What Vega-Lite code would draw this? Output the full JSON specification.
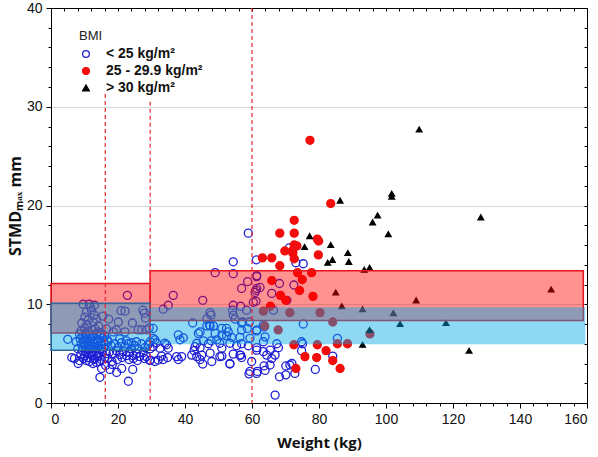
{
 "$schema": "https://vega.github.io/schema/vega-lite/v6.json",
 "width": 536, "height": 395,
 "autosize": {"type": "none"},
 "padding": {"left": 51, "top": 8, "right": 11, "bottom": 54},
 "background": "white",
 "config": {"view": {"stroke": "#000", "strokeWidth": 1}, "font": "Liberation Sans"},
 "datasets": {
  "bands": [
   {"band": "red", "seg": "left", "x0": 0, "x1": 29.6, "y0": 7.1, "y1": 12.1},
   {"band": "red", "seg": "right", "x0": 29.6, "x1": 158.9, "y0": 8.35, "y1": 13.4},
   {"band": "blue", "seg": "left", "x0": 0, "x1": 29.6, "y0": 5.35, "y1": 10.1},
   {"band": "blue", "seg": "right", "x0": 29.6, "x1": 159.5, "y0": 5.95, "y1": 9.7}
  ],
  "vlines": [
   {"x": 16.2, "top": 31.3},
   {"x": 29.6, "top": 30.5},
   {"x": 60, "top": 40}
  ],
  "pts": [
   {"w":9.6,"s":10.0,"g":"a"},{"w":11.4,"s":10.0,"g":"a"},{"w":12.1,"s":9.4,"g":"a"},{"w":10.6,"s":9.25,"g":"a"},{"w":12.9,"s":8.9,"g":"a"},{"w":10.1,"s":8.7,"g":"a"},{"w":11.1,"s":8.4,"g":"a"},{"w":12.6,"s":8.2,"g":"a"},{"w":9.2,"s":8.1,"g":"a"},{"w":10.8,"s":7.9,"g":"a"},{"w":13.5,"s":8.5,"g":"a"},{"w":14.2,"s":7.8,"g":"a"},{"w":15.5,"s":8.8,"g":"a"},{"w":17.2,"s":8.5,"g":"a"},{"w":20.9,"s":9.35,"g":"a"},{"w":22.1,"s":9.3,"g":"a"},{"w":24.3,"s":8.1,"g":"a"},{"w":27.4,"s":9.4,"g":"a"},{"w":27.9,"s":9.1,"g":"a"},{"w":28.2,"s":8.6,"g":"a"},{"w":20.1,"s":8.2,"g":"a"},{"w":22.8,"s":10.9,"g":"a"},{"w":26.0,"s":7.4,"g":"a"},{"w":18.6,"s":7.2,"g":"a"},{"w":22.1,"s":7.2,"g":"a"},{"w":27.1,"s":7.4,"g":"a"},{"w":28.6,"s":7.4,"g":"a"},{"w":16.6,"s":7.5,"g":"a"},{"w":19.5,"s":7.4,"g":"a"},{"w":15.0,"s":7.1,"g":"a"},{"w":11.8,"s":9.7,"g":"a"},{"w":13.0,"s":9.9,"g":"a"},{"w":10.0,"s":7.6,"g":"a"},{"w":9.0,"s":7.3,"g":"a"},{"w":8.5,"s":7.0,"g":"a"},
   {"w":9.5,"s":6.8,"g":"a"},{"w":10.5,"s":6.9,"g":"a"},{"w":11.5,"s":7.0,"g":"a"},{"w":12.5,"s":6.8,"g":"a"},{"w":13.5,"s":7.0,"g":"a"},{"w":14.5,"s":6.9,"g":"a"},{"w":15.5,"s":6.6,"g":"a"},{"w":9.8,"s":6.2,"g":"a"},{"w":10.8,"s":6.4,"g":"a"},{"w":11.8,"s":6.3,"g":"a"},{"w":12.8,"s":6.2,"g":"a"},{"w":13.8,"s":6.4,"g":"a"},{"w":14.8,"s":6.1,"g":"a"},{"w":15.8,"s":6.2,"g":"a"},{"w":10.2,"s":5.8,"g":"a"},{"w":11.2,"s":5.7,"g":"a"},{"w":12.2,"s":5.9,"g":"a"},{"w":13.2,"s":5.6,"g":"a"},{"w":14.2,"s":5.8,"g":"a"},{"w":15.2,"s":5.5,"g":"a"},{"w":16.2,"s":5.9,"g":"a"},{"w":9.3,"s":5.3,"g":"a"},{"w":10.3,"s":5.2,"g":"a"},{"w":11.3,"s":5.4,"g":"a"},{"w":12.3,"s":5.1,"g":"a"},{"w":13.3,"s":5.3,"g":"a"},{"w":14.3,"s":5.0,"g":"a"},{"w":15.3,"s":5.2,"g":"a"},{"w":16.5,"s":5.0,"g":"a"},{"w":10.0,"s":4.8,"g":"a"},{"w":11.0,"s":4.6,"g":"a"},{"w":12.0,"s":4.9,"g":"a"},{"w":13.0,"s":4.5,"g":"a"},{"w":14.0,"s":4.7,"g":"a"},{"w":15.0,"s":4.4,"g":"a"},{"w":16.0,"s":4.6,"g":"a"},{"w":8.0,"s":5.5,"g":"a"},{"w":7.5,"s":6.2,"g":"a"},{"w":8.5,"s":4.3,"g":"a"},{"w":8.9,"s":4.9,"g":"a"},{"w":7.0,"s":4.5,"g":"a"},{"w":6.2,"s":4.6,"g":"a"},{"w":5.0,"s":6.45,"g":"a"},{"w":8.1,"s":4.0,"g":"a"},{"w":11.5,"s":4.2,"g":"a"},{"w":12.5,"s":4.0,"g":"a"},{"w":13.6,"s":4.1,"g":"a"},{"w":10.5,"s":4.3,"g":"a"},
   {"w":9.0,"s":6.0,"g":"a"},{"w":10.0,"s":6.5,"g":"a"},{"w":11.0,"s":6.0,"g":"a"},{"w":12.0,"s":6.5,"g":"a"},{"w":13.0,"s":6.0,"g":"a"},{"w":14.0,"s":6.3,"g":"a"},{"w":15.0,"s":5.9,"g":"a"},{"w":9.5,"s":5.6,"g":"a"},{"w":10.7,"s":5.0,"g":"a"},{"w":11.7,"s":5.5,"g":"a"},{"w":12.7,"s":5.6,"g":"a"},{"w":13.7,"s":5.0,"g":"a"},{"w":14.7,"s":5.4,"g":"a"},{"w":11.0,"s":7.3,"g":"a"},{"w":12.3,"s":7.4,"g":"a"},{"w":13.2,"s":7.5,"g":"a"},{"w":14.0,"s":7.2,"g":"a"},{"w":16.0,"s":6.8,"g":"a"},{"w":16.8,"s":6.4,"g":"a"},{"w":10.3,"s":7.1,"g":"a"},{"w":8.7,"s":6.5,"g":"a"},{"w":9.7,"s":4.5,"g":"a"},{"w":12.8,"s":4.4,"g":"a"},{"w":14.5,"s":4.2,"g":"a"},
   {"w":17.0,"s":6.2,"g":"a"},{"w":18.0,"s":5.8,"g":"a"},{"w":19.0,"s":6.0,"g":"a"},{"w":20.0,"s":5.6,"g":"a"},{"w":21.0,"s":6.1,"g":"a"},{"w":22.0,"s":5.7,"g":"a"},{"w":23.0,"s":6.0,"g":"a"},{"w":24.0,"s":5.5,"g":"a"},{"w":25.0,"s":5.8,"g":"a"},{"w":26.0,"s":5.5,"g":"a"},{"w":27.0,"s":6.0,"g":"a"},{"w":28.0,"s":5.6,"g":"a"},{"w":29.0,"s":5.9,"g":"a"},{"w":17.5,"s":5.2,"g":"a"},{"w":18.5,"s":5.0,"g":"a"},{"w":19.5,"s":5.3,"g":"a"},{"w":20.5,"s":4.9,"g":"a"},{"w":21.5,"s":5.2,"g":"a"},{"w":22.5,"s":4.8,"g":"a"},{"w":23.5,"s":5.1,"g":"a"},{"w":24.5,"s":4.8,"g":"a"},{"w":25.5,"s":5.0,"g":"a"},{"w":26.5,"s":4.7,"g":"a"},{"w":27.5,"s":5.1,"g":"a"},{"w":28.5,"s":4.7,"g":"a"},{"w":17.0,"s":4.5,"g":"a"},{"w":18.2,"s":4.2,"g":"a"},{"w":19.8,"s":4.4,"g":"a"},{"w":21.2,"s":4.6,"g":"a"},{"w":23.3,"s":4.4,"g":"a"},{"w":25.8,"s":4.3,"g":"a"},{"w":27.9,"s":4.5,"g":"a"},{"w":24.6,"s":4.5,"g":"a"},{"w":29.5,"s":4.3,"g":"a"},{"w":29.3,"s":7.6,"g":"a"},{"w":29.6,"s":5.5,"g":"a"},{"w":22.5,"s":6.3,"g":"a"},{"w":25.5,"s":6.2,"g":"a"},{"w":24.0,"s":6.1,"g":"a"},{"w":20.5,"s":6.5,"g":"a"},
   {"w":14.6,"s":2.6,"g":"a"},{"w":23.1,"s":2.2,"g":"a"},{"w":19.6,"s":3.1,"g":"a"},{"w":17.6,"s":3.4,"g":"a"},{"w":15.1,"s":3.5,"g":"a"},{"w":21.1,"s":3.5,"g":"a"},{"w":18.3,"s":3.9,"g":"a"},{"w":24.4,"s":3.4,"g":"a"},{"w":16.3,"s":3.8,"g":"a"},
   {"w":58.9,"s":17.2,"g":"a"},{"w":54.4,"s":14.3,"g":"a"},{"w":61.3,"s":14.5,"g":"a"},{"w":49.0,"s":13.2,"g":"a"},{"w":54.4,"s":13.1,"g":"a"},{"w":58.7,"s":12.3,"g":"a"},{"w":56.9,"s":11.6,"g":"a"},{"w":61.2,"s":11.4,"g":"a"},{"w":36.5,"s":10.9,"g":"a"},{"w":35.0,"s":9.9,"g":"a"},{"w":33.5,"s":9.5,"g":"a"},{"w":45.3,"s":10.4,"g":"a"},{"w":54.4,"s":9.9,"g":"a"},{"w":54.2,"s":9.4,"g":"a"},{"w":54.4,"s":8.9,"g":"a"},{"w":54.9,"s":8.5,"g":"a"},{"w":47.5,"s":9.15,"g":"a"},{"w":47.8,"s":8.9,"g":"a"},{"w":58.4,"s":9.4,"g":"a"},{"w":61.2,"s":10.3,"g":"a"},{"w":60.4,"s":10.2,"g":"a"},{"w":59.2,"s":8.2,"g":"a"},{"w":46.5,"s":8.5,"g":"a"},{"w":42.3,"s":8.1,"g":"a"},{"w":46.5,"s":7.8,"g":"a"},{"w":47.5,"s":7.8,"g":"a"},{"w":48.5,"s":7.8,"g":"a"},{"w":51.0,"s":7.55,"g":"a"},{"w":52.4,"s":7.55,"g":"a"},{"w":52.9,"s":7.2,"g":"a"},{"w":44.0,"s":7.05,"g":"a"},{"w":56.9,"s":8.1,"g":"a"},{"w":56.9,"s":7.4,"g":"a"},{"w":58.6,"s":7.55,"g":"a"},{"w":61.4,"s":7.4,"g":"a"},{"w":30.5,"s":7.55,"g":"a"},{"w":30.5,"s":6.55,"g":"a"},{"w":31.0,"s":6.4,"g":"a"},{"w":38.0,"s":6.9,"g":"a"},{"w":39.5,"s":6.6,"g":"a"},{"w":49.0,"s":7.05,"g":"a"},{"w":51.0,"s":6.9,"g":"a"},{"w":52.4,"s":6.8,"g":"a"},{"w":53.9,"s":6.65,"g":"a"},{"w":56.4,"s":6.65,"g":"a"},{"w":59.4,"s":6.55,"g":"a"},{"w":45.5,"s":6.3,"g":"a"},{"w":47.8,"s":6.3,"g":"a"},{"w":47.0,"s":6.0,"g":"a"},{"w":43.5,"s":6.05,"g":"a"},{"w":50.4,"s":6.05,"g":"a"},{"w":53.4,"s":6.05,"g":"a"},{"w":55.4,"s":5.8,"g":"a"},{"w":56.9,"s":6.0,"g":"a"},{"w":58.9,"s":5.8,"g":"a"},{"w":61.4,"s":5.6,"g":"a"},{"w":29.6,"s":6.2,"g":"a"},{"w":31.5,"s":6.1,"g":"a"},{"w":34.0,"s":6.05,"g":"a"},{"w":35.0,"s":5.55,"g":"a"},{"w":34.5,"s":5.9,"g":"a"},{"w":32.5,"s":5.55,"g":"a"},{"w":30.5,"s":5.7,"g":"a"},{"w":43.0,"s":5.7,"g":"a"},{"w":44.5,"s":5.6,"g":"a"},{"w":42.0,"s":4.85,"g":"a"},{"w":43.5,"s":4.7,"g":"a"},{"w":45.0,"s":4.85,"g":"a"},{"w":44.5,"s":4.4,"g":"a"},{"w":37.5,"s":4.7,"g":"a"},{"w":38.0,"s":4.4,"g":"a"},{"w":47.5,"s":5.05,"g":"a"},{"w":48.0,"s":4.2,"g":"a"},{"w":51.0,"s":4.75,"g":"a"},{"w":45.3,"s":3.95,"g":"a"},{"w":53.4,"s":3.95,"g":"a"},{"w":54.4,"s":4.95,"g":"a"},{"w":56.6,"s":4.85,"g":"a"},{"w":56.9,"s":4.6,"g":"a"},{"w":29.6,"s":4.35,"g":"a"},{"w":31.0,"s":4.2,"g":"a"},{"w":32.0,"s":4.35,"g":"a"},{"w":33.0,"s":4.75,"g":"a"},{"w":59.4,"s":3.2,"g":"a"},{"w":59.1,"s":2.95,"g":"a"},{"w":59.9,"s":4.2,"g":"a"},{"w":61.6,"s":3.2,"g":"a"},{"w":44.5,"s":7.2,"g":"a"},{"w":47.3,"s":7.9,"g":"a"},{"w":49.5,"s":6.4,"g":"a"},{"w":51.0,"s":5.55,"g":"a"},{"w":56.6,"s":9.8,"g":"a"},{"w":57.2,"s":8.2,"g":"a"},{"w":39.0,"s":4.7,"g":"a"},{"w":42.7,"s":5.3,"g":"a"},{"w":50.4,"s":4.7,"g":"a"},{"w":53.4,"s":4.0,"g":"a"},{"w":56.4,"s":4.85,"g":"a"},{"w":38.5,"s":6.4,"g":"a"},{"w":33.5,"s":4.4,"g":"a"},{"w":34.8,"s":4.6,"g":"a"},
   {"w":71.1,"s":15.7,"g":"a"},{"w":73.1,"s":14.2,"g":"a"},{"w":75.3,"s":14.1,"g":"a"},{"w":61.4,"s":12.9,"g":"a"},{"w":68.2,"s":12.1,"g":"a"},{"w":72.5,"s":11.95,"g":"a"},{"w":61.4,"s":11.6,"g":"a"},{"w":60.9,"s":11.2,"g":"a"},{"w":65.9,"s":11.1,"g":"a"},{"w":70.4,"s":10.4,"g":"a"},{"w":66.4,"s":9.4,"g":"a"},{"w":63.4,"s":7.9,"g":"a"},{"w":63.6,"s":7.7,"g":"a"},{"w":61.4,"s":7.3,"g":"a"},{"w":74.8,"s":6.2,"g":"a"},{"w":75.1,"s":6.0,"g":"a"},{"w":85.5,"s":6.55,"g":"a"},{"w":61.4,"s":5.35,"g":"a"},{"w":63.4,"s":5.2,"g":"a"},{"w":65.4,"s":5.35,"g":"a"},{"w":67.9,"s":5.6,"g":"a"},{"w":66.9,"s":4.85,"g":"a"},{"w":64.4,"s":4.85,"g":"a"},{"w":65.9,"s":4.5,"g":"a"},{"w":74.8,"s":5.3,"g":"a"},{"w":71.9,"s":4.0,"g":"a"},{"w":70.1,"s":3.75,"g":"a"},{"w":63.6,"s":3.75,"g":"a"},{"w":63.9,"s":3.3,"g":"a"},{"w":65.4,"s":3.85,"g":"a"},{"w":61.4,"s":3.0,"g":"a"},{"w":68.2,"s":2.65,"g":"a"},{"w":70.1,"s":2.85,"g":"a"},{"w":78.9,"s":3.4,"g":"a"},{"w":84.1,"s":4.75,"g":"a"},{"w":66.9,"s":0.8,"g":"a"},{"w":75.3,"s":8.0,"g":"a"},{"w":63.9,"s":6.7,"g":"a"},{"w":63.4,"s":6.2,"g":"a"},{"w":67.4,"s":6.0,"g":"a"},{"w":72.8,"s":3.0,"g":"a"},{"w":71.3,"s":3.85,"g":"a"},{"w":62.4,"s":11.7,"g":"a"},{"w":61.4,"s":12.8,"g":"a"},
   {"w":77.3,"s":26.6,"g":"b"},{"w":83.5,"s":20.2,"g":"b"},{"w":72.6,"s":18.5,"g":"b"},{"w":68.3,"s":17.2,"g":"b"},{"w":72.6,"s":17.2,"g":"b"},{"w":79.5,"s":16.6,"g":"b"},{"w":79.9,"s":16.4,"g":"b"},{"w":72.6,"s":16.0,"g":"b"},{"w":73.4,"s":15.9,"g":"b"},{"w":69.8,"s":15.4,"g":"b"},{"w":72.0,"s":15.4,"g":"b"},{"w":72.2,"s":15.2,"g":"b"},{"w":63.1,"s":14.7,"g":"b"},{"w":65.9,"s":14.7,"g":"b"},{"w":79.8,"s":15.0,"g":"b"},{"w":72.6,"s":14.6,"g":"b"},{"w":68.3,"s":13.9,"g":"b"},{"w":73.6,"s":13.2,"g":"b"},{"w":77.8,"s":13.2,"g":"b"},{"w":75.0,"s":12.5,"g":"b"},{"w":65.9,"s":12.4,"g":"b"},{"w":74.2,"s":11.4,"g":"b"},{"w":68.5,"s":10.9,"g":"b"},{"w":78.2,"s":10.8,"g":"b"},{"w":70.1,"s":10.4,"g":"b"},{"w":65.5,"s":9.8,"g":"b"},{"w":63.4,"s":9.3,"g":"b"},{"w":71.3,"s":9.15,"g":"b"},{"w":80.3,"s":9.15,"g":"b"},{"w":84.1,"s":8.2,"g":"b"},{"w":67.8,"s":7.4,"g":"b"},{"w":63.8,"s":7.8,"g":"b"},{"w":72.5,"s":5.9,"g":"b"},{"w":79.5,"s":5.9,"g":"b"},{"w":85.5,"s":6.0,"g":"b"},{"w":88.5,"s":6.0,"g":"b"},{"w":95.2,"s":7.0,"g":"b"},{"w":75.8,"s":4.7,"g":"b"},{"w":79.3,"s":4.6,"g":"b"},{"w":82.1,"s":5.3,"g":"b"},{"w":84.1,"s":4.3,"g":"b"},{"w":86.3,"s":3.5,"g":"b"},{"w":73.1,"s":3.5,"g":"b"},
   {"w":77.2,"s":16.9,"g":"c"},{"w":75.7,"s":15.8,"g":"c"},{"w":83.5,"s":16.0,"g":"c"},{"w":82.6,"s":14.2,"g":"c"},{"w":84.0,"s":14.5,"g":"c"},{"w":88.6,"s":15.2,"g":"c"},{"w":88.9,"s":14.3,"g":"c"},{"w":86.3,"s":20.5,"g":"c"},{"w":85.0,"s":11.2,"g":"c"},{"w":86.8,"s":9.8,"g":"c"},{"w":93.0,"s":9.5,"g":"c"},{"w":93.5,"s":13.5,"g":"c"},{"w":95.1,"s":13.7,"g":"c"},{"w":96.0,"s":18.3,"g":"c"},{"w":97.5,"s":19.0,"g":"c"},{"w":100.7,"s":17.1,"g":"c"},{"w":101.7,"s":21.2,"g":"c"},{"w":101.7,"s":20.9,"g":"c"},{"w":102.2,"s":9.1,"g":"c"},{"w":104.2,"s":8.0,"g":"c"},{"w":109.0,"s":10.4,"g":"c"},{"w":109.9,"s":27.7,"g":"c"},{"w":117.9,"s":8.1,"g":"c"},{"w":124.8,"s":5.3,"g":"c"},{"w":128.3,"s":18.8,"g":"c"},{"w":149.3,"s":11.5,"g":"c"},{"w":95.1,"s":7.4,"g":"c"},{"w":93.0,"s":5.9,"g":"c"}
  ]
 },
 "resolve": {"axis": {"x": "independent", "y": "independent"}},
 "layer": [
  {
   "data": {"name": "pts"},
   "mark": {"type": "point", "strokeWidth": 1.3, "opacity": 1},
   "encoding": {
    "x": {"field": "w", "type": "quantitative",
     "scale": {"domain": [0, 160], "nice": false, "zero": false},
     "axis": {"title": "Weight (kg)",
      "values": [0,4,8,12,16,20,24,28,32,36,40,44,48,52,56,60,64,68,72,76,80,84,88,92,96,100,104,108,112,116,120,124,128,132,136,140,144,148,152,156,160],
      "labelExpr": "datum.value % 20 === 0 ? datum.label : ''",
      "labelOverlap": false,
      "tickSize": {"condition": {"test": "datum.value % 20 === 0", "value": 5}, "value": 3},
      "grid": false, "domainColor": "#000", "tickColor": "#000",
      "labelFont": "Liberation Sans", "labelFontSize": 14, "labelColor": "#111", "labelPadding": 4,
      "titleFont": "Open Sans", "titleFontSize": 15, "titleFontWeight": "bold", "titleColor": "#111", "titlePadding": 9}},
    "y": {"field": "s", "type": "quantitative",
     "scale": {"domain": [0, 40], "nice": false},
     "axis": {"title": "STMDₘₐₓ mm",
      "values": [0,2,4,6,8,10,12,14,16,18,20,22,24,26,28,30,32,34,36,38,40],
      "labelExpr": "datum.value % 10 === 0 ? datum.label : ''",
      "labelOverlap": false,
      "tickSize": {"condition": {"test": "datum.value % 10 === 0", "value": 5}, "value": 3},
      "grid": true, "gridColor": "#d6d6d6",
      "gridOpacity": {"condition": {"test": "datum.value % 10 === 0 && datum.value > 0 && datum.value < 40", "value": 1}, "value": 0},
      "domainColor": "#000", "tickColor": "#000",
      "labelFont": "Liberation Sans", "labelFontSize": 14, "labelColor": "#111", "labelPadding": 4,
      "titleFont": "Open Sans", "titleFontSize": 16, "titleFontWeight": "bold", "titleColor": "#111", "titlePadding": 3}},
    "shape": {"field": "g", "type": "nominal",
     "scale": {"domain": ["a", "b", "c"], "range": ["circle", "circle", "triangle-up"]},
     "legend": {"title": "BMI", "orient": "none", "legendX": 28, "legendY": 22,
      "labelExpr": "datum.value == 'a' ? '< 25 kg/m²' : datum.value == 'b' ? '25 - 29.9 kg/m²' : '> 30 kg/m²'",
      "titleFont": "Liberation Sans", "titleFontWeight": "normal", "titleFontSize": 13, "titleColor": "#222",
      "labelFont": "Liberation Sans", "labelFontWeight": "bold", "labelFontSize": 14, "labelColor": "#111",
      "symbolSize": 45, "symbolStrokeWidth": 1.3, "rowPadding": 3, "labelOffset": 13, "titlePadding": 4}},
    "stroke": {"field": "g", "type": "nominal",
     "scale": {"domain": ["a", "b", "c"], "range": ["#1f1fd6", "#f20d0d", "#000000"]},
     "legend": {"title": "BMI"}},
    "fill": {"field": "g", "type": "nominal",
     "scale": {"domain": ["a", "b", "c"], "range": ["#ffffff00", "#f20d0d", "#000000"]},
     "legend": {"title": "BMI"}},
    "size": {"condition": {"test": "datum.g == 'c'", "value": 32}, "value": 64}
   }
  },
  {
   "data": {"name": "bands"},
   "transform": [{"filter": "datum.band == 'red'"}],
   "mark": {"type": "rect", "fill": "#ff0000", "fillOpacity": 0.43, "stroke": "#e8141b", "strokeWidth": 1.5},
   "encoding": {
    "x": {"field": "x0", "type": "quantitative", "axis": null}, "x2": {"field": "x1"},
    "y": {"field": "y0", "type": "quantitative", "axis": null}, "y2": {"field": "y1"}
   }
  },
  {
   "data": {"name": "bands"},
   "transform": [{"filter": "datum.band == 'blue' && datum.seg == 'left'"}],
   "mark": {"type": "rect", "fill": "#00a6e6", "fillOpacity": 0.44, "stroke": "#2c6aa0", "strokeWidth": 1.5},
   "encoding": {
    "x": {"field": "x0", "type": "quantitative", "axis": null}, "x2": {"field": "x1"},
    "y": {"field": "y0", "type": "quantitative", "axis": null}, "y2": {"field": "y1"}
   }
  },
  {
   "data": {"name": "bands"},
   "transform": [{"filter": "datum.band == 'blue' && datum.seg == 'right'"}],
   "mark": {"type": "rect", "fill": "#00a6e6", "fillOpacity": 0.44},
   "encoding": {
    "x": {"field": "x0", "type": "quantitative", "axis": null}, "x2": {"field": "x1"},
    "y": {"field": "y0", "type": "quantitative", "axis": null}, "y2": {"field": "y1"}
   }
  },
  {
   "data": {"name": "vlines"},
   "mark": {"type": "rule", "color": "#e3262f", "strokeWidth": 1.2, "strokeDash": [4, 3]},
   "encoding": {
    "x": {"field": "x", "type": "quantitative",
     "axis": {"orient": "top", "title": null, "labels": false, "grid": false, "domain": false, "offset": -3, "tickSize": 3,
      "values": [0,4,8,12,16,20,24,28,32,36,40,44,48,52,56,60,64,68,72,76,80,84,88,92,96,100,104,108,112,116,120,124,128,132,136,140,144,148,152,156,160],
      "tickColor": "#000"}},
    "y": {"field": "top", "type": "quantitative",
     "axis": {"orient": "right", "title": null, "labels": false, "grid": false, "domain": false, "offset": -3, "tickSize": 3,
      "values": [0,2,4,6,8,10,12,14,16,18,20,22,24,26,28,30,32,34,36,38,40],
      "tickColor": "#000"}},
    "y2": {"datum": 0}
   }
  }
 ]
}
